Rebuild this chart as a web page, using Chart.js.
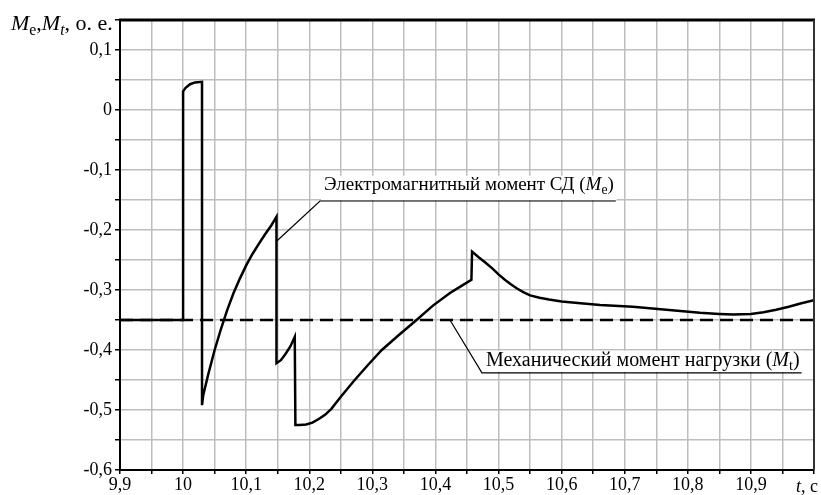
<!DOCTYPE html>
<html>
<head>
<meta charset="utf-8">
<script src="https://cdn.jsdelivr.net/npm/chart.js@4/dist/chart.umd.min.js"></script>
<style>
  body { margin: 0; background: #fff; }
  #wrap { width: 821px; height: 495px; position: relative; }
</style>
</head>
<body>
<div id="wrap"><canvas id="torqueChart"></canvas></div>
<script>
// electromagnetic torque Me (t, o.e.)
const meT = [9.9, 10.0, 10.0, 10.004, 10.011, 10.019, 10.030, 10.030, 10.032, 10.04, 10.05, 10.06, 10.07, 10.08,
  10.09, 10.10, 10.11, 10.12, 10.13, 10.14, 10.148, 10.148, 10.155, 10.162, 10.170, 10.177, 10.178,
  10.185, 10.195, 10.205, 10.215, 10.225, 10.235, 10.25, 10.272, 10.293, 10.315, 10.342, 10.37, 10.396,
  10.423, 10.44, 10.457, 10.458, 10.468, 10.48, 10.49, 10.50, 10.51, 10.52, 10.53, 10.54, 10.55, 10.565,
  10.58, 10.60, 10.63, 10.661, 10.713, 10.766, 10.819, 10.85, 10.872, 10.90, 10.92, 10.94, 10.96, 10.98, 11.0];
const meV = [-0.35, -0.35, 0.031, 0.037, 0.043, 0.046, 0.047, -0.492, -0.475, -0.44, -0.40, -0.365, -0.333, -0.305,
  -0.281, -0.259, -0.24, -0.223, -0.207, -0.192, -0.178, -0.422, -0.417, -0.407, -0.394, -0.378, -0.525,
  -0.525, -0.524, -0.521, -0.515, -0.508, -0.498, -0.478, -0.45, -0.425, -0.4, -0.375, -0.35, -0.326,
  -0.305, -0.294, -0.283, -0.236, -0.245, -0.255, -0.264, -0.274, -0.283, -0.291, -0.298, -0.304, -0.309, -0.313,
  -0.316, -0.319, -0.322, -0.325, -0.328, -0.333, -0.338, -0.34, -0.341, -0.34, -0.337, -0.333, -0.328, -0.322, -0.317];

// mechanical load torque Mt
const mtT = [9.9, 11.0];
const mtV = [-0.35, -0.35];

const xTicks = [9.9, 10.0, 10.1, 10.2, 10.3, 10.4, 10.5, 10.6, 10.7, 10.8, 10.9];
const xTickText = ['9,9', '10', '10,1', '10,2', '10,3', '10,4', '10,5', '10,6', '10,7', '10,8', '10,9'];
const yTicks = [0.1, 0, -0.1, -0.2, -0.3, -0.4, -0.5, -0.6];
const yTickText = ['0,1', '0', '-0,1', '-0,2', '-0,3', '-0,4', '-0,5', '-0,6'];

const serif = "'Liberation Serif', 'Times New Roman', serif";

function pickLabel(value, ticks, texts) {
  for (let i = 0; i < ticks.length; i++) {
    if (Math.abs(value - ticks[i]) < 1e-6) return texts[i];
  }
  return '';
}

// text made of parts: {t, it, sub}
function drawRich(ctx, parts, x, y, size) {
  let cx = x;
  parts.forEach(p => {
    const fs = p.sub ? size * 0.72 : size;
    ctx.font = (p.it ? 'italic ' : '') + fs + 'px ' + serif;
    ctx.fillText(p.t, cx, p.sub ? y + size * 0.22 : y);
    cx += ctx.measureText(p.t).width;
  });
  return cx - x;
}

function richWidth(ctx, parts, size) {
  let w = 0;
  parts.forEach(p => {
    const fs = p.sub ? size * 0.72 : size;
    ctx.font = (p.it ? 'italic ' : '') + fs + 'px ' + serif;
    w += ctx.measureText(p.t).width;
  });
  return w;
}

const callouts = [
  { at: [10.149, -0.218], elbow: [10.217, -0.1517], textGap: 11, size: 19,
    parts: [{ t: 'Электромагнитный момент СД (' }, { t: 'M', it: true }, { t: 'e', sub: true }, { t: ')' }] },
  { at: [10.423, -0.35], elbow: [10.4737, -0.438], textGap: 7, size: 20,
    parts: [{ t: 'Механический момент нагрузки (' }, { t: 'M', it: true }, { t: 't', sub: true }, { t: ')' }] }
];

const extrasPlugin = {
  id: 'extras',
  afterDatasetsDraw(chart) {
    const { ctx, chartArea: a, scales: { x, y } } = chart;
    ctx.save();
    // frame
    ctx.strokeStyle = '#000';
    ctx.lineWidth = 3;
    ctx.beginPath(); ctx.moveTo(a.left - 1, a.top); ctx.lineTo(a.right + 1, a.top); ctx.stroke();
    ctx.strokeStyle = '#333';
    ctx.lineWidth = 2;
    ctx.beginPath(); ctx.moveTo(a.right, a.top); ctx.lineTo(a.right, a.bottom); ctx.stroke();

    // callouts
    ctx.textBaseline = 'alphabetic';
    callouts.forEach(c => {
      const px = x.getPixelForValue(c.at[0]), py = y.getPixelForValue(c.at[1]);
      const ex = x.getPixelForValue(c.elbow[0]), ey = y.getPixelForValue(c.elbow[1]);
      const w = richWidth(ctx, c.parts, c.size);
      ctx.fillStyle = '#fff';
      ctx.fillRect(ex + 1, ey - c.textGap - c.size * 0.75, w + 6, c.size * 0.75 + c.textGap - 1);
      ctx.fillStyle = '#000';
      drawRich(ctx, c.parts, ex + 4, ey - c.textGap, c.size);
      ctx.strokeStyle = '#000';
      ctx.lineWidth = 1.2;
      ctx.beginPath();
      ctx.moveTo(px, py);
      ctx.lineTo(ex, ey);
      ctx.lineTo(ex + w + 6, ey);
      ctx.stroke();
    });

    // axis titles
    ctx.fillStyle = '#000';
    drawRich(ctx, [{ t: 'M', it: true }, { t: 'e', sub: true }, { t: ',' }, { t: 'M', it: true },
      { t: 't', sub: true, it: true }, { t: ', о. е.' }], 11, y.getPixelForValue(0.15) + 10, 22);
    drawRich(ctx, [{ t: 't', it: true }, { t: ', с' }], 796, 492, 18);
    ctx.restore();
  }
};

new Chart(document.getElementById('torqueChart'), {
  type: 'line',
  data: {
    datasets: [{
      label: 'Me',
      data: meT.map((t, i) => ({ x: t, y: meV[i] })),
      borderColor: '#000',
      borderWidth: 2.5,
      pointRadius: 0,
      tension: 0
    }, {
      label: 'Mt',
      data: mtT.map((t, i) => ({ x: t, y: mtV[i] })),
      borderColor: '#000',
      borderWidth: 2.5,
      borderDash: [13, 7],
      pointRadius: 0,
      tension: 0
    }]
  },
  options: {
    responsive: true,
    maintainAspectRatio: false,
    animation: false,
    layout: { padding: { top: 20, right: 7, left: 0, bottom: 0 } },
    plugins: { legend: { display: false }, tooltip: { enabled: false } },
    scales: {
      x: {
        type: 'linear',
        min: 9.9,
        max: 11.0,
        afterFit: s => { s.height = 25; },
        ticks: {
          stepSize: 0.05,
          autoSkip: false,
          maxRotation: 0,
          padding: 0,
          color: '#000',
          font: { family: serif, size: 18 },
          callback: v => pickLabel(v, xTicks, xTickText)
        },
        grid: { color: '#bdbdbd', lineWidth: 1.5, tickColor: '#000', tickLength: 4, tickWidth: 1.5 },
        border: { color: '#000', width: 2 }
      },
      y: {
        min: -0.6,
        max: 0.15,
        afterFit: s => { s.width = 120; },
        ticks: {
          stepSize: 0.05,
          autoSkip: false,
          padding: 3,
          color: '#000',
          font: { family: serif, size: 18 },
          callback: v => pickLabel(v, yTicks, yTickText)
        },
        grid: { color: '#bdbdbd', lineWidth: 1.5, tickColor: '#000', tickLength: 5, tickWidth: 1.5 },
        border: { color: '#000', width: 2 }
      }
    }
  },
  plugins: [extrasPlugin]
});
</script>
</body>
</html>
